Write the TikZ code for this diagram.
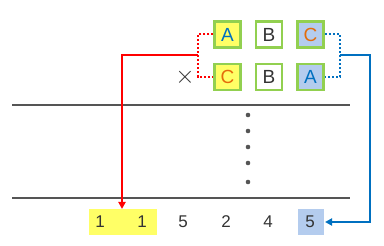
\documentclass[tikz,border=0pt]{standalone}
\usepackage{fontspec}
\setmainfont{Liberation Sans}
\usetikzlibrary{arrows.meta}
\definecolor{gbord}{HTML}{92D050}
\definecolor{yfill}{HTML}{FFFF66}
\definecolor{bfill}{HTML}{B4CCEE}
\definecolor{ablue}{HTML}{0070C0}
\definecolor{corange}{HTML}{E46C0A}
\definecolor{tgray}{HTML}{333333}
\definecolor{lgray}{HTML}{555555}
\begin{document}
\begin{tikzpicture}[x=1pt,y=-1pt,
  letbox/.style={draw=gbord,line width=2.5pt,minimum width=26pt,minimum height=26pt,inner sep=0pt,font=\fontsize{19}{19}\selectfont},
  dig/.style={font=\fontsize{17}{17}\selectfont,text=tgray,inner sep=0pt},
  rule/.style={draw=lgray,line width=2pt},
  dotline/.style={line width=2pt,dotted},
  arr/.style={line width=1.8pt,-{Triangle[length=7pt,width=7pt]}}]
\useasboundingbox (0,0) rectangle (384,246);
% boxes
\node[letbox,fill=yfill,text=ablue] (a1) at (227.5,34.5) {A};
\node[letbox,fill=white,text=tgray] (b1) at (269,34.5) {B};
\node[letbox,fill=bfill,text=corange] (c1) at (310.5,34.5) {C};
\node[letbox,fill=yfill,text=corange] (c2) at (227.5,77) {C};
\node[letbox,fill=white,text=tgray] (b2) at (269,77) {B};
\node[letbox,fill=bfill,text=ablue] (a2) at (310.5,77) {A};
\node[text=tgray,font=\fontsize{24}{24}\selectfont,inner sep=0pt] (x) at (185,77) {$\times$};
% rules
\coordinate (r1l) at (12,105); \coordinate (r1r) at (350,105);
\coordinate (r2l) at (12,198); \coordinate (r2r) at (350,198);
\draw[rule] (r1l) -- (r1r);
\draw[rule] (r2l) -- (r2r);
% dots
\foreach \yy [count=\i] in {115,131,147,163,182}
  \fill[lgray] (248,\yy) circle (2.3pt) coordinate (d\i);
% bottom digits
\fill[yfill] (89,209) rectangle (157,235);
\fill[bfill] (298,209) rectangle (324,235);
\node[dig] (n1) at (100,222) {1};
\node[dig] (n2) at (142,222) {1};
\node[dig] (n3) at (183,222) {5};
\node[dig] (n4) at (226,222) {2};
\node[dig] (n5) at (268,222) {4};
\node[dig] (n6) at (310,222) {5};
\coordinate (ytop) at (122,209);
\coordinate (bright) at (325,222);
% red connector
\coordinate (rj) at (198,55);
\draw[red,dotline] (a1.west) -| (rj) |- (c2.west);
\draw[red,arr] (rj) -- (122,55) -- (ytop);
% blue connector
\coordinate (bj) at (340,55);
\draw[ablue,dotline] (c1.east) -| (bj) |- (a2.east);
\draw[ablue,arr] (bj) -- (370,55) -- (370,222) -- (bright);
\end{tikzpicture}
\end{document}
